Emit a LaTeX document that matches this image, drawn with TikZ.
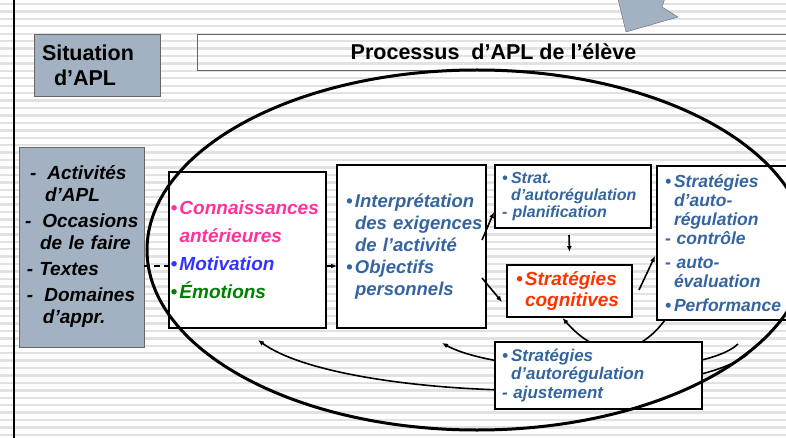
\documentclass[tikz,border=0pt]{standalone}
\usepackage{fontspec}
\setmainfont{Liberation Sans}
\usetikzlibrary{arrows.meta}
\definecolor{ardoise}{RGB}{163,178,194}
\definecolor{acier}{RGB}{52,101,160}
\definecolor{rose}{RGB}{255,51,153}
\definecolor{bleu}{RGB}{51,51,255}
\definecolor{vert}{RGB}{0,128,0}
\definecolor{flamme}{RGB}{255,51,0}
\definecolor{rayure}{RGB}{226,226,226}
\newcommand{\bul}{\makebox[9pt][l]{•}}
\newcommand{\ind}{\hspace*{9pt}}
\hyphenpenalty=10000
\exhyphenpenalty=10000
\begin{document}
\begin{tikzpicture}[x=1pt,y=-1pt,
	boite/.style={draw,line width=1.1pt,fill=white,anchor=north west,align=left,inner ysep=0pt,outer sep=0pt},
	grise/.style={draw=black!60,line width=0.8pt,fill=ardoise,anchor=north west,align=left,inner ysep=0pt,outer sep=0pt},
	fleche/.style={line width=1.6pt,-{Latex[length=6pt,width=5pt]}},
	tiret/.style={line width=1.6pt,dash pattern=on 6pt off 4pt}]
	\useasboundingbox (0,0) rectangle (786,438);
	\fill [white] (0,0) rectangle (786,438);
	\foreach \y in {4,11.43,...,438} \draw [rayure,line width=2.4pt] (0,\y) -- (786,\y);
	\draw [line width=2.5pt] (14,0) -- (14,438);
	\filldraw [fill=ardoise,draw=black!60] (617,-5) -- (626,32) -- (678,17) -- (662,7) -- (666,-5) -- cycle;
	\node [grise,minimum width=126pt,minimum height=62pt,text width=110pt,inner xsep=8pt,font=\bfseries\fontsize{21.5}{25}\selectfont] (situ) at (34,34) {Situation\\\hspace*{12pt}d’APL};
	\node [draw=black!60,line width=0.8pt,anchor=north west,outer sep=0pt,minimum width=593pt,minimum height=36pt,font=\bfseries\fontsize{21.5}{25}\selectfont] (titre) at (197,34) {Processus\ \ d’APL de l’élève};
	\node [grise,minimum width=125pt,minimum height=200pt,text width=125pt,inner xsep=0pt,font=\bfseries\itshape\fontsize{19}{22}\selectfont] (situations) at (19,147)
		{\hspace*{11pt}-\hspace*{11pt}Activités\\\hspace*{26pt}d’APL\\[4pt]\hspace*{6pt}-\hspace*{11pt}Occasions\\\hspace*{21pt}de~le~faire\\[4pt]\hspace*{8pt}-\hspace*{6pt}Textes\\[4pt]\hspace*{8pt}-\hspace*{11pt}Domaines\\\hspace*{24pt}d’appr.};
	\node [boite,minimum width=157pt,minimum height=156pt,text width=154pt,inner xsep=1.5pt,font=\bfseries\itshape\fontsize{19}{28}\selectfont] (acquis) at (169,172)
		{\color{rose}\bul Connaissances\\\ind antérieures\\\color{bleu}\bul Motivation\\\color{vert}\bul Émotions};
	\node [boite,minimum width=149pt,minimum height=163pt,text width=131pt,inner xsep=9pt,text=acier,font=\bfseries\itshape\fontsize{18.5}{22}\selectfont] (exigences) at (337,165)
		{\bul Interprétation\\\ind des~exigences\\\ind de~l’activité\\\bul Objectifs\\\ind personnels};
	\node [boite,minimum width=156pt,minimum height=63pt,text width=142pt,inner xsep=7pt,text=acier,font=\bfseries\itshape\fontsize{16}{17}\selectfont] (planif) at (495,165)
		{\bul Strat.\\\ind d’autorégulation\\-~planification};
	\node [boite,minimum width=125pt,minimum height=52pt,text width=107pt,inner xsep=9pt,text=flamme,font=\bfseries\itshape\fontsize{19}{21}\selectfont] (cognitif) at (507,265)
		{\bul Stratégies\\\ind cognitives};
	\node [boite,minimum width=133pt,minimum height=154pt,text width=117pt,inner xsep=8pt,text=acier,font=\bfseries\itshape\fontsize{17.5}{19}\selectfont] (controle) at (657,166)
		{\bul Stratégies\\\ind d’auto-\\\ind régulation\\-~contrôle\\[5pt]-~auto-\\\ind évaluation\\[5pt]\bul Performance};
	\coordinate (g) at ([shift={(0,19)}]situations.east);
	\draw [tiret] (g) -- (g -| acquis.west);
	\coordinate (m) at ([shift={(0,16)}]acquis.east);
	\draw [tiret,-{Latex[length=6pt,width=5pt]}] (m) -- (m -| exigences.west);
	\draw [fleche] ([shift={(-4,-6.5)}]exigences.east) -- ([shift={(-1,15.5)}]planif.west);
	\draw [fleche] ([shift={(-4,31.5)}]exigences.east) -- ([shift={(-5,11)}]cognitif.west);
	\draw [fleche] ([shift={(-4,7)}]planif.south) -- ([shift={(0,-13)}]cognitif.north);
	\draw [fleche] ([shift={(7,-1)}]cognitif.east) -- ([shift={(-2,13)}]controle.west);
	\coordinate (depA) at (738,344);
	\coordinate (depB) at (748,354);
	\draw [fleche] ([shift={(8,0)}]controle.south west) .. controls +(-30,40) and +(35,40) .. ([shift={(-7,1)}]cognitif.south);
	\draw [fleche] (depA) .. controls (700,380) and (500,375) .. ([shift={(30.5,15)}]exigences.south);
	\draw [fleche] (depB) .. controls (680,408) and (340,400) .. ([shift={(10.5,12)}]acquis.south);
	\node [boite,minimum width=207pt,minimum height=67pt,text width=193pt,inner xsep=7pt,text=acier,font=\bfseries\itshape\fontsize{17}{18.5}\selectfont] (ajustement) at (495,342)
		{\bul Stratégies\\\ind d’autorégulation\\-~ajustement};
	\draw [line width=3pt] (477,250) ellipse [x radius=330, y radius=180];
\end{tikzpicture}
\end{document}
